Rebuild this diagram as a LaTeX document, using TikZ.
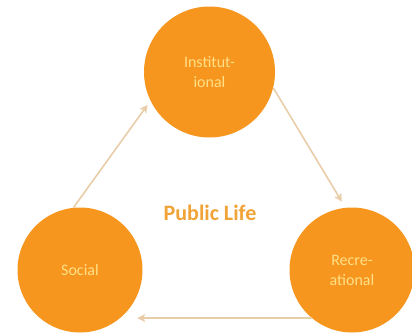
\documentclass[tikz,border=0pt]{standalone}
\usepackage{fontspec}
\setmainfont{Carlito}
\usetikzlibrary{arrows.meta}
\definecolor{circfill}{RGB}{247,150,30}
\definecolor{circtext}{RGB}{255,224,135}
\definecolor{titletext}{RGB}{240,163,55}
\definecolor{arrowcol}{RGB}{232,205,168}
\tikzset{
  bubble/.style={circle, fill=circfill, draw=none, text=circtext, align=center,
    font=\fontsize{16}{20}\selectfont, inner sep=0pt},
  link/.style={draw=arrowcol, line width=1.6pt, -{Stealth[length=8pt,width=8pt,inset=2pt]}}
}
\begin{document}
\begin{tikzpicture}[x=1pt,y=-1pt]
\useasboundingbox (0,0) rectangle (412,335);
\node[bubble, minimum size=131pt] (inst) at (209.5,72) {Institut-\\ional};
\node[bubble, minimum size=125pt] (soc) at (80,270) {Social};
\node[bubble, minimum size=125pt] (rec) at (352,270) {Recre-\\ational};
\node[font=\fontsize{22}{26}\selectfont\bfseries, text=titletext] (title) at (210,213) {Public Life};
\draw[link, shorten >=5pt] (soc.96) -- (inst.206);
\draw[link, shorten >=7pt] (inst.-14) -- (rec.96);
\draw[link, shorten >=17pt] (rec.230) -- (soc.-50);
\end{tikzpicture}
\end{document}
